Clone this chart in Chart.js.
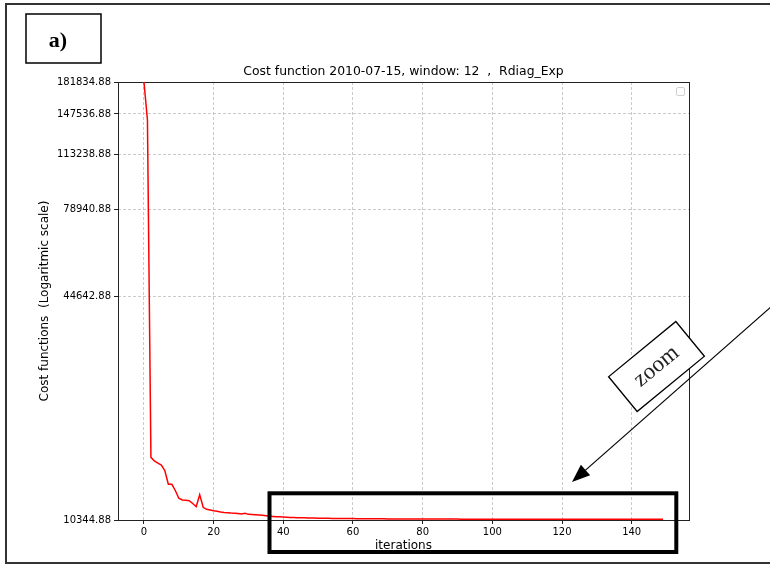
<!DOCTYPE html>
<html>
<head>
<meta charset="utf-8">
<script src="https://cdn.jsdelivr.net/npm/chart.js@4.4.1/dist/chart.umd.min.js"></script>
<style>
  html, body { margin: 0; padding: 0; background: #fff; }
  canvas { display: block; }
</style>
</head>
<body>
<canvas id="chart" width="770" height="565"></canvas>
<script>
// labels
const titleText = "Cost function 2010-07-15, window: 12  ,  Rdiag_Exp";
const xLabel = "iterations";
const yLabel = "Cost functions  (Logaritmic scale)";

// tick positions
const xTicks = [0, 20, 40, 60, 80, 100, 120, 140];
const yTicks = [10344.88, 44642.88, 78940.88, 113238.88, 147536.88, 181834.88];

// cost per iteration (0..149)
const cost = [
  181834.88, 141800, 15590, 15220, 15020, 14825, 14285, 13070, 13070, 12550,
  11925, 11795, 11780, 11740, 11525, 11285, 12210, 11240, 11095, 11045,
  10995, 10960, 10900, 10870, 10850, 10830, 10820, 10800, 10760, 10815,
  10735, 10720, 10710, 10690, 10670, 10640, 10615, 10590, 10570, 10560,
  10550, 10535, 10520, 10510, 10505, 10500, 10490, 10485, 10480, 10475,
  10465, 10462, 10460, 10458, 10455, 10452, 10450, 10447, 10445, 10442,
  10440, 10438, 10436, 10434, 10432, 10430, 10428, 10426, 10424, 10422,
  10420, 10419, 10418, 10417, 10416, 10415, 10414, 10413, 10412, 10411,
  10410, 10409, 10409, 10408, 10408, 10407, 10407, 10406, 10406, 10405,
  10405, 10404, 10404, 10403, 10403, 10402, 10402, 10401, 10401, 10400,
  10400, 10400, 10399, 10399, 10399, 10398, 10398, 10398, 10397, 10397,
  10397, 10396, 10396, 10396, 10395, 10395, 10395, 10395, 10394, 10394,
  10394, 10394, 10393, 10393, 10393, 10393, 10392, 10392, 10392, 10392,
  10392, 10391, 10391, 10391, 10391, 10391, 10390, 10390, 10390, 10390,
  10390, 10390, 10389, 10389, 10389, 10389, 10389, 10388, 10388, 10388
];

const FONT = "DejaVu Sans";

// axes frame goes under the red line, the rest on top
const overlay = {
  id: "overlay",
  beforeDatasetsDraw(chart) {
    const ctx = chart.ctx;
    const a = chart.chartArea;
    ctx.save();
    ctx.strokeStyle = "#222";
    ctx.lineWidth = 1;
    ctx.strokeRect(a.left + 0.5, a.top + 0.5, a.right - a.left, a.bottom - a.top);
    ctx.restore();
  },
  afterDraw(chart) {
    const ctx = chart.ctx;
    const a = chart.chartArea;
    const cx = (a.left + a.right) / 2;
    const cy = (a.top + a.bottom) / 2;
    ctx.save();

    // empty legend box
    ctx.strokeStyle = "#cfcfcf";
    ctx.lineWidth = 1;
    ctx.beginPath();
    ctx.roundRect(676.5, 87.5, 8, 8, 1.5);
    ctx.stroke();

    // title + axis titles
    ctx.fillStyle = "#000";
    ctx.textAlign = "center";
    ctx.textBaseline = "middle";
    ctx.font = "12.4px '" + FONT + "'";
    ctx.fillText(titleText, cx, 72);
    ctx.font = "12px '" + FONT + "'";
    ctx.fillText(xLabel, cx, 546);
    ctx.save();
    ctx.translate(45, cy);
    ctx.rotate(-Math.PI / 2);
    ctx.fillText(yLabel, 0, 0);
    ctx.restore();

    // outer frame (right side falls off the page)
    ctx.strokeStyle = "#333";
    ctx.lineWidth = 2;
    ctx.beginPath();
    ctx.moveTo(772, 4);
    ctx.lineTo(6, 4);
    ctx.lineTo(6, 563);
    ctx.lineTo(772, 563);
    ctx.stroke();

    // "a)" label box
    ctx.strokeStyle = "#000";
    ctx.lineWidth = 1.5;
    ctx.strokeRect(26, 14, 75, 49);
    ctx.font = "bold 22px 'Liberation Serif'";
    ctx.fillText("a)", 58, 41);

    // zoom rectangle
    ctx.lineWidth = 4;
    ctx.strokeRect(269.5, 493.3, 406.8, 58.7);

    // arrow
    ctx.lineWidth = 1.2;
    const x0 = 772, y0 = 306, x1 = 572, y1 = 482;
    const ang = Math.atan2(y1 - y0, x1 - x0);
    const hl = 18, hw = 7;
    const bx = x1 - hl * Math.cos(ang), by = y1 - hl * Math.sin(ang);
    ctx.beginPath();
    ctx.moveTo(x0, y0);
    ctx.lineTo(bx, by);
    ctx.stroke();
    ctx.beginPath();
    ctx.moveTo(x1, y1);
    ctx.lineTo(bx + hw * Math.sin(ang), by - hw * Math.cos(ang));
    ctx.lineTo(bx - hw * Math.sin(ang), by + hw * Math.cos(ang));
    ctx.closePath();
    ctx.fill();

    // rotated "zoom" tag
    ctx.save();
    ctx.translate(656.5, 366.5);
    ctx.rotate(-39.4 * Math.PI / 180);
    ctx.fillStyle = "#fff";
    ctx.fillRect(-43.5, -22.5, 87, 45);
    ctx.lineWidth = 1.3;
    ctx.strokeRect(-43.5, -22.5, 87, 45);
    ctx.fillStyle = "#222";
    ctx.font = "23px 'Liberation Serif'";
    ctx.fillText("zoom", 0, 0);
    ctx.restore();

    ctx.restore();
  }
};

const gridOpts = {
  color: "#bdbdbd",
  lineWidth: 0.8,
  tickLength: 4,
  tickColor: "#222",
  tickWidth: 1
};

new Chart(document.getElementById("chart"), {
  type: "line",
  data: {
    datasets: [{
      data: cost.map((v, i) => ({ x: i, y: v })),
      borderColor: "#ff0000",
      borderWidth: 1.5,
      pointRadius: 0,
      tension: 0,
      fill: false
    }]
  },
  options: {
    responsive: false,
    animation: false,
    devicePixelRatio: 1,
    layout: { padding: { left: 0, top: 82, right: 81, bottom: 0 } },
    plugins: {
      legend: { display: false },
      title: { display: false },
      tooltip: { enabled: false }
    },
    scales: {
      x: {
        type: "linear",
        min: -7.45,
        max: 156.45,
        afterBuildTicks: (s) => { s.ticks = xTicks.map((v) => ({ value: v })); },
        afterFit: (s) => { s.height = 45; },
        grid: gridOpts,
        border: { display: false, dash: [3, 2] },
        ticks: {
          autoSkip: false,
          maxRotation: 0,
          padding: 2,
          color: "#000",
          font: { family: FONT, size: 10 },
          callback: (v) => String(v)
        }
      },
      y: {
        type: "logarithmic",
        min: yTicks[0],
        max: yTicks[yTicks.length - 1],
        afterBuildTicks: (s) => { s.ticks = yTicks.map((v) => ({ value: v })); },
        afterFit: (s) => { s.width = 118; },
        grid: gridOpts,
        border: { display: false, dash: [3, 2] },
        ticks: {
          autoSkip: false,
          padding: 3,
          color: "#000",
          font: { family: FONT, size: 10 },
          callback: (v) => Number(v).toFixed(2)
        }
      }
    }
  },
  plugins: [overlay]
});
</script>
</body>
</html>
